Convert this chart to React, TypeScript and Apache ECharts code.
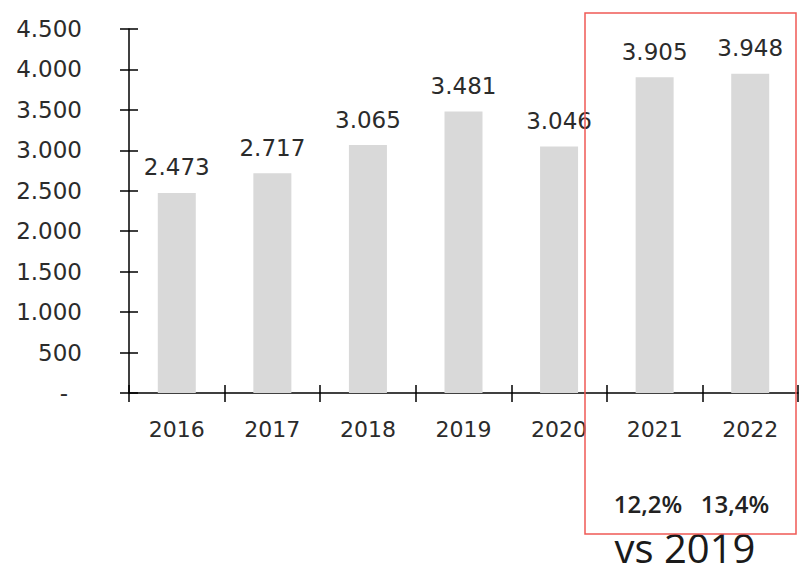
import React, { useEffect, useRef } from "react";
import * as echarts from "echarts";

const categories = ["2016", "2017", "2018", "2019", "2020", "2021", "2022"];
const values = [2473, 2717, 3065, 3481, 3046, 3905, 3948];
const growthLabels = ["12,2%", "13,4%"];
const footnote = "vs 2019";

const fmt = (v: number) => {
  if (v === 0) return "{d|-}";
  const s = Math.round(v).toString();
  return s.replace(/\B(?=(\d{3})+(?!\d))/g, ".");
};

const FONT = "'DejaVu Sans'";
const TXT = "#2b2b2b";

export default function App() {
  const ref = useRef<HTMLDivElement>(null);
  useEffect(() => {
    if (!ref.current) return;
    const chart = echarts.init(ref.current, undefined, { renderer: "svg" });
    const growthX = [648, 735];
    chart.setOption({
      animation: false,
      grid: { left: 129, right: 1, top: 29, bottom: 176, containLabel: false },
      xAxis: [
        {
          type: "category",
          data: categories,
          axisLine: { show: true, lineStyle: { color: "#000", width: 1.5 } },
          axisTick: { show: true, length: 9, lineStyle: { color: "#000", width: 1.5 } },
          axisLabel: { color: TXT, fontFamily: FONT, fontSize: 22, margin: 25 },
        },
        {
          type: "category",
          data: categories,
          position: "bottom",
          axisLine: { show: false },
          axisTick: { show: true, inside: true, length: 8, lineStyle: { color: "#000", width: 1.5 } },
          axisLabel: { show: false },
        },
      ],
      yAxis: [
        {
          type: "value",
          min: 0,
          max: 4500,
          interval: 500,
          axisLine: { show: true, lineStyle: { color: "#000", width: 1.5 } },
          axisTick: { show: true, length: 9, lineStyle: { color: "#000", width: 1.5 } },
          splitLine: { show: false },
          axisLabel: {
            color: TXT,
            fontFamily: FONT,
            fontSize: 23,
            margin: 47,
            formatter: (v: number) => fmt(v),
            rich: { d: { color: TXT, fontFamily: FONT, fontSize: 23, padding: [0, 14, 0, 0] } },
          },
        },
        {
          type: "value",
          min: 0,
          max: 4500,
          interval: 500,
          position: "left",
          axisLine: { show: false },
          axisTick: { show: true, inside: true, length: 9, lineStyle: { color: "#000", width: 1.5 } },
          splitLine: { show: false },
          axisLabel: { show: false },
        },
      ],
      series: [
        {
          type: "bar",
          data: values,
          barWidth: 38,
          itemStyle: { color: "#d9d9d9" },
          label: {
            show: true,
            position: "top",
            distance: 14,
            color: TXT,
            fontFamily: FONT,
            fontSize: 23,
            formatter: (p: any) => fmt(p.value),
          },
        },
      ],
      graphic: [
        {
          type: "rect",
          shape: { x: 585, y: 13, width: 211, height: 521 },
          style: { fill: "none", stroke: "#f05a55", lineWidth: 1.5 },
          z: 100,
        },
        ...growthLabels.map((t, i) => ({
          type: "text",
          x: growthX[i],
          y: 503,
          style: {
            text: t,
            fill: "#222",
            font: "600 24px 'Open Sans'",
            align: "center",
            verticalAlign: "middle",
          },
        })),
        {
          type: "text",
          x: 685,
          y: 547,
          style: {
            text: footnote,
            fill: "#1a1a1a",
            font: "400 40px 'Open Sans'",
            align: "center",
            verticalAlign: "middle",
          },
        },
      ],
    });
    return () => chart.dispose();
  }, []);
  return (
    <div
      ref={ref}
      style={{ position: "fixed", left: 0, top: 0, width: 799, height: 569, background: "#fff" }}
    />
  );
}
